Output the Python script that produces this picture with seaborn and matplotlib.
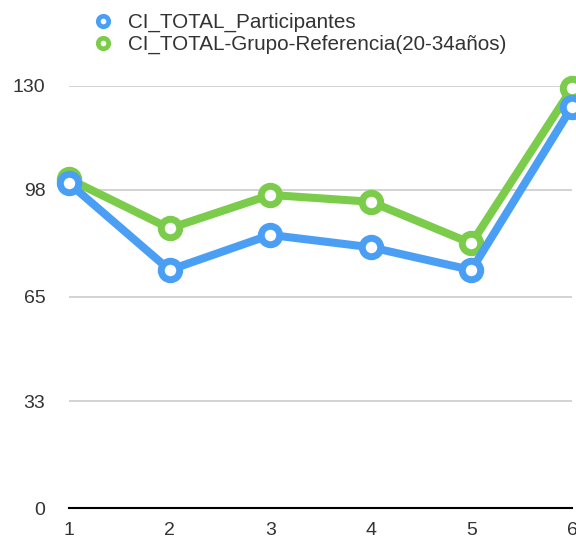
import matplotlib
matplotlib.use("Agg")
import matplotlib.pyplot as plt
from matplotlib.lines import Line2D
import seaborn as sns
import pandas as pd

x_vals = [1, 2, 3, 4, 5, 6]
participantes = [100.0, 73.3, 84.1, 80.3, 73.3, 123.5]
referencia = [101.3, 86.1, 96.4, 94.3, 81.5, 129.2]
series_names = ["CI_TOTAL_Participantes", "CI_TOTAL-Grupo-Referencia(20-34años)"]
y_ticks = [0, 33, 65, 98, 130]

blue = "#4A9FF5"
green = "#7ACC4A"

sns.set_style("white")
plt.rcParams["font.family"] = ["Liberation Sans", "DejaVu Sans"]

fig = plt.figure(figsize=(5.76, 5.42), dpi=100)
ax = fig.add_axes([69 / 576, 0.0622, (572 - 69) / 576, 0.8419 - 0.0622])

df_p = pd.DataFrame({"x": x_vals, "y": participantes})
df_r = pd.DataFrame({"x": x_vals, "y": referencia})

common = dict(marker="o", linewidth=5.8, markersize=13.3, markeredgewidth=5.0,
              markerfacecolor="white", clip_on=False, legend=False)
sns.lineplot(data=df_r, x="x", y="y", ax=ax, color=green, markeredgecolor=green, zorder=3, **common)
sns.lineplot(data=df_p, x="x", y="y", ax=ax, color=blue, markeredgecolor=blue, zorder=4, **common)

ax.set_xlim(1, 6)
ax.set_ylim(0, 130)
ax.set_yticks(y_ticks)
ax.set_xticks(x_vals)
ax.set_xlabel("")
ax.set_ylabel("")
ax.yaxis.grid(True, color="#c8c8c8", linewidth=1.1)
ax.set_axisbelow(True)
for s in ["top", "right", "left"]:
    ax.spines[s].set_visible(False)
ax.spines["bottom"].set_color("black")
ax.spines["bottom"].set_linewidth(1.5)
ax.tick_params(axis="y", length=0, pad=17, labelsize=14, labelcolor="#333333")
ax.tick_params(axis="x", length=0, pad=10, labelsize=14, labelcolor="#333333")

handles = [
    Line2D([], [], linestyle="none", marker="o", markersize=7.5, markeredgewidth=3.4,
           markerfacecolor="white", markeredgecolor=blue),
    Line2D([], [], linestyle="none", marker="o", markersize=7.5, markeredgewidth=3.4,
           markerfacecolor="white", markeredgecolor=green),
]
fig.legend(handles, series_names, loc="center left", bbox_to_anchor=(93 / 576, 0.938),
           frameon=False, fontsize=14.9, handlelength=1.0, handletextpad=0.7,
           labelspacing=0.12, borderpad=0, borderaxespad=0, labelcolor="#333333")

fig.savefig("out.png", dpi=100)
